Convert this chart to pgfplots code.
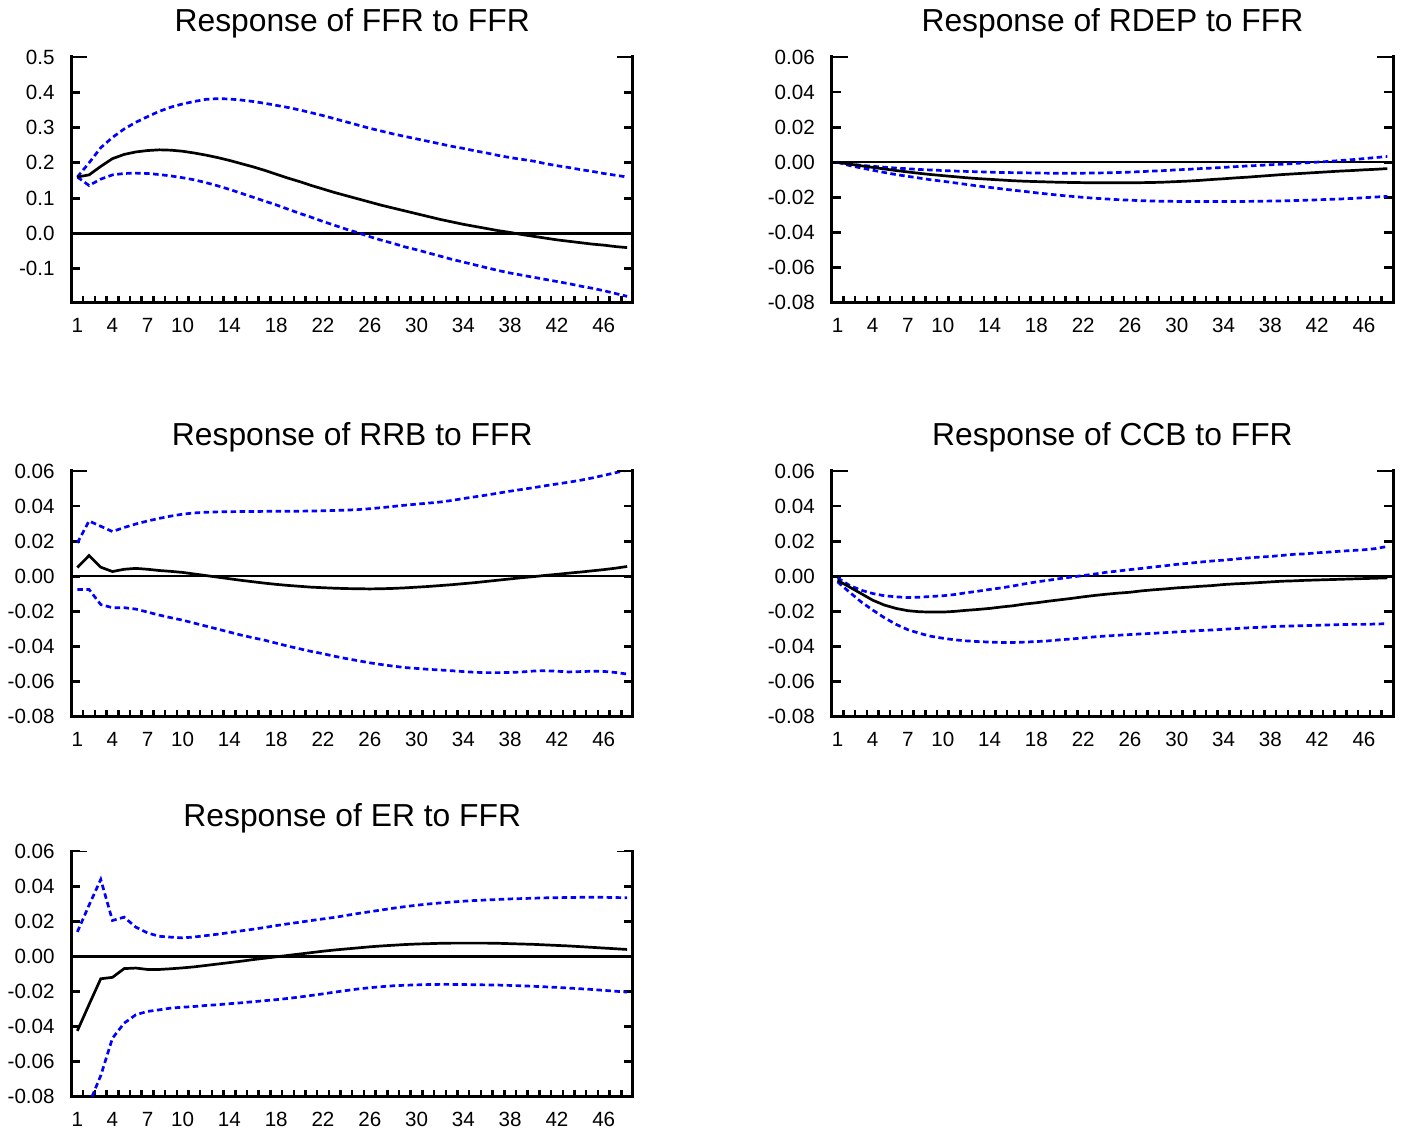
\documentclass[border=0pt]{standalone}
\usepackage{fontspec}
\setmainfont{Liberation Sans}
\usepackage{pgfplots}
\usepackage{pgfplotstable}
\pgfplotsset{compat=1.18}

\pgfplotstableread{
p r lo hi
1 0.160 0.160 0.160
2 0.166 0.136 0.200
3 0.190 0.154 0.243
4 0.212 0.166 0.272
5 0.224 0.170 0.296
6 0.231 0.171 0.315
7 0.235 0.170 0.331
8 0.237 0.167 0.346
9 0.236 0.163 0.358
10 0.233 0.158 0.367
11 0.228 0.152 0.374
12 0.222 0.144 0.380
13 0.215 0.135 0.382
14 0.207 0.125 0.381
15 0.198 0.114 0.378
16 0.189 0.103 0.374
17 0.179 0.092 0.369
18 0.168 0.081 0.363
19 0.157 0.069 0.357
20 0.147 0.057 0.350
21 0.136 0.046 0.342
22 0.126 0.034 0.334
23 0.116 0.023 0.325
24 0.107 0.012 0.316
25 0.098 0.002 0.307
26 0.089 -0.009 0.298
27 0.080 -0.019 0.290
28 0.072 -0.028 0.282
29 0.064 -0.038 0.275
30 0.056 -0.046 0.268
31 0.048 -0.055 0.261
32 0.040 -0.064 0.254
33 0.033 -0.073 0.247
34 0.026 -0.081 0.241
35 0.020 -0.089 0.234
36 0.014 -0.097 0.228
37 0.008 -0.105 0.221
38 0.003 -0.112 0.215
39 -0.003 -0.118 0.210
40 -0.008 -0.124 0.205
41 -0.013 -0.130 0.198
42 -0.018 -0.136 0.192
43 -0.022 -0.142 0.187
44 -0.026 -0.149 0.181
45 -0.030 -0.155 0.176
46 -0.033 -0.162 0.170
47 -0.037 -0.170 0.165
48 -0.040 -0.178 0.160
}\ffr

\pgfplotstableread{
p r lo hi
1 0.0000 0.0000 0.0000
2 -0.0010 -0.0018 -0.0010
3 -0.0020 -0.0032 -0.0017
4 -0.0029 -0.0045 -0.0023
5 -0.0038 -0.0058 -0.0028
6 -0.0047 -0.0070 -0.0033
7 -0.0055 -0.0080 -0.0037
8 -0.0063 -0.0090 -0.0041
9 -0.0070 -0.0100 -0.0044
10 -0.0076 -0.0108 -0.0047
11 -0.0082 -0.0117 -0.0050
12 -0.0088 -0.0126 -0.0052
13 -0.0093 -0.0135 -0.0054
14 -0.0097 -0.0143 -0.0056
15 -0.0101 -0.0151 -0.0058
16 -0.0105 -0.0159 -0.0059
17 -0.0108 -0.0166 -0.0060
18 -0.0110 -0.0174 -0.0061
19 -0.0112 -0.0181 -0.0062
20 -0.0114 -0.0188 -0.0062
21 -0.0115 -0.0194 -0.0062
22 -0.0116 -0.0200 -0.0062
23 -0.0117 -0.0205 -0.0061
24 -0.0117 -0.0209 -0.0060
25 -0.0117 -0.0213 -0.0058
26 -0.0117 -0.0216 -0.0056
27 -0.0116 -0.0219 -0.0053
28 -0.0115 -0.0221 -0.0050
29 -0.0113 -0.0222 -0.0047
30 -0.0110 -0.0223 -0.0043
31 -0.0107 -0.0224 -0.0040
32 -0.0103 -0.0224 -0.0036
33 -0.0098 -0.0224 -0.0033
34 -0.0094 -0.0224 -0.0029
35 -0.0089 -0.0224 -0.0025
36 -0.0085 -0.0223 -0.0021
37 -0.0080 -0.0222 -0.0018
38 -0.0075 -0.0221 -0.0014
39 -0.0070 -0.0220 -0.0011
40 -0.0066 -0.0218 -0.0007
41 -0.0062 -0.0216 -0.0003
42 -0.0058 -0.0214 0.0001
43 -0.0054 -0.0211 0.0005
44 -0.0050 -0.0209 0.0010
45 -0.0047 -0.0206 0.0015
46 -0.0043 -0.0202 0.0021
47 -0.0040 -0.0198 0.0027
48 -0.0036 -0.0194 0.0033
}\rdep

\pgfplotstableread{
p r lo hi
1 0.0050 -0.0075 0.0190
2 0.0118 -0.0075 0.0315
3 0.0052 -0.0161 0.0285
4 0.0027 -0.0179 0.0255
5 0.0040 -0.0179 0.0278
6 0.0045 -0.0187 0.0298
7 0.0040 -0.0204 0.0315
8 0.0033 -0.0221 0.0330
9 0.0028 -0.0236 0.0343
10 0.0022 -0.0250 0.0354
11 0.0013 -0.0267 0.0361
12 0.0004 -0.0284 0.0365
13 -0.0005 -0.0301 0.0367
14 -0.0014 -0.0318 0.0368
15 -0.0023 -0.0335 0.0369
16 -0.0031 -0.0350 0.0369
17 -0.0039 -0.0364 0.0370
18 -0.0046 -0.0381 0.0371
19 -0.0052 -0.0398 0.0371
20 -0.0057 -0.0413 0.0371
21 -0.0062 -0.0428 0.0372
22 -0.0065 -0.0441 0.0373
23 -0.0068 -0.0456 0.0375
24 -0.0070 -0.0469 0.0377
25 -0.0071 -0.0481 0.0380
26 -0.0072 -0.0493 0.0385
27 -0.0071 -0.0503 0.0391
28 -0.0069 -0.0512 0.0398
29 -0.0066 -0.0520 0.0405
30 -0.0062 -0.0525 0.0411
31 -0.0058 -0.0530 0.0417
32 -0.0053 -0.0534 0.0423
33 -0.0048 -0.0538 0.0432
34 -0.0042 -0.0543 0.0443
35 -0.0036 -0.0547 0.0453
36 -0.0029 -0.0549 0.0463
37 -0.0022 -0.0549 0.0474
38 -0.0015 -0.0548 0.0485
39 -0.0008 -0.0545 0.0495
40 -0.0002 -0.0540 0.0505
41 0.0005 -0.0538 0.0516
42 0.0011 -0.0541 0.0526
43 0.0018 -0.0545 0.0536
44 0.0024 -0.0543 0.0547
45 0.0031 -0.0541 0.0560
46 0.0038 -0.0542 0.0575
47 0.0046 -0.0548 0.0590
48 0.0056 -0.0557 0.0605
}\rrb

\pgfplotstableread{
p r lo hi
1 -0.0023 -0.0032 -0.0009
2 -0.0060 -0.0089 -0.0051
3 -0.0098 -0.0145 -0.0079
4 -0.0136 -0.0192 -0.0098
5 -0.0164 -0.0236 -0.0111
6 -0.0183 -0.0274 -0.0117
7 -0.0196 -0.0304 -0.0121
8 -0.0202 -0.0325 -0.0119
9 -0.0204 -0.0342 -0.0115
10 -0.0204 -0.0353 -0.0111
11 -0.0200 -0.0362 -0.0104
12 -0.0194 -0.0368 -0.0094
13 -0.0189 -0.0372 -0.0085
14 -0.0183 -0.0375 -0.0075
15 -0.0175 -0.0377 -0.0066
16 -0.0168 -0.0377 -0.0055
17 -0.0158 -0.0375 -0.0043
18 -0.0151 -0.0372 -0.0032
19 -0.0142 -0.0368 -0.0023
20 -0.0134 -0.0362 -0.0013
21 -0.0126 -0.0357 -0.0004
22 -0.0117 -0.0351 0.0004
23 -0.0109 -0.0345 0.0013
24 -0.0102 -0.0340 0.0023
25 -0.0096 -0.0336 0.0030
26 -0.0091 -0.0332 0.0038
27 -0.0083 -0.0328 0.0045
28 -0.0077 -0.0325 0.0053
29 -0.0072 -0.0321 0.0060
30 -0.0066 -0.0317 0.0068
31 -0.0062 -0.0313 0.0074
32 -0.0057 -0.0309 0.0081
33 -0.0053 -0.0306 0.0087
34 -0.0047 -0.0302 0.0092
35 -0.0043 -0.0298 0.0098
36 -0.0040 -0.0294 0.0104
37 -0.0036 -0.0291 0.0109
38 -0.0032 -0.0287 0.0113
39 -0.0028 -0.0285 0.0119
40 -0.0026 -0.0283 0.0125
41 -0.0023 -0.0281 0.0128
42 -0.0021 -0.0279 0.0134
43 -0.0019 -0.0277 0.0138
44 -0.0017 -0.0275 0.0143
45 -0.0015 -0.0274 0.0147
46 -0.0013 -0.0274 0.0151
47 -0.0011 -0.0272 0.0158
48 -0.0009 -0.0270 0.0170
}\ccb

\pgfplotstableread{
p r lo hi
1 -0.0425 -0.1200 0.0139
2 -0.0275 -0.0840 0.0291
3 -0.0128 -0.0680 0.0438
4 -0.0120 -0.0467 0.0204
5 -0.0070 -0.0381 0.0223
6 -0.0067 -0.0333 0.0166
7 -0.0075 -0.0314 0.0133
8 -0.0075 -0.0305 0.0114
9 -0.0071 -0.0295 0.0109
10 -0.0066 -0.0290 0.0105
11 -0.0060 -0.0286 0.0110
12 -0.0052 -0.0280 0.0118
13 -0.0044 -0.0276 0.0126
14 -0.0036 -0.0270 0.0135
15 -0.0028 -0.0265 0.0145
16 -0.0019 -0.0259 0.0154
17 -0.0011 -0.0253 0.0164
18 -0.0003 -0.0247 0.0175
19 0.0005 -0.0240 0.0185
20 0.0013 -0.0232 0.0194
21 0.0021 -0.0223 0.0204
22 0.0029 -0.0214 0.0213
23 0.0036 -0.0204 0.0222
24 0.0042 -0.0195 0.0233
25 0.0048 -0.0186 0.0244
26 0.0054 -0.0179 0.0254
27 0.0059 -0.0173 0.0264
28 0.0063 -0.0168 0.0274
29 0.0067 -0.0165 0.0283
30 0.0070 -0.0163 0.0291
31 0.0072 -0.0161 0.0298
32 0.0074 -0.0160 0.0304
33 0.0075 -0.0160 0.0309
34 0.0075 -0.0161 0.0314
35 0.0075 -0.0162 0.0318
36 0.0075 -0.0163 0.0321
37 0.0074 -0.0164 0.0324
38 0.0072 -0.0166 0.0327
39 0.0070 -0.0168 0.0329
40 0.0068 -0.0171 0.0331
41 0.0065 -0.0174 0.0333
42 0.0062 -0.0177 0.0334
43 0.0059 -0.0181 0.0335
44 0.0055 -0.0185 0.0336
45 0.0051 -0.0189 0.0336
46 0.0047 -0.0194 0.0336
47 0.0043 -0.0199 0.0335
48 0.0039 -0.0204 0.0333
}\er

\tikzset{stub/.style={black, line width=1.4pt}}
\pgfplotsset{
  irf/.style={
    scale only axis, width=280.75pt, height=122.85pt,
    anchor=south west,
    xmin=0.5, xmax=48.5,
    axis x line=bottom, axis y line=box,
    every outer x axis line/.append style={-, line width=1.5pt, line cap=rect},
    every outer y axis line/.append style={-, line width=1.5pt, line cap=rect},
    tick align=inside,
    xtick={1,4,7,10,14,18,22,26,30,34,38,42,46},
    xticklabels={1,4,7,10,14,18,22,26,30,34,38,42,46},
    minor xtick={1.5,2.5,...,47.5},
    major x tick style={draw=none},
    minor x tick style={black, line width=1.25pt},
    minor tick length=3.5pt,
    major tick length=4.5pt,
    major y tick style={black, line width=1.4pt},
    ytick pos=both, yticklabel pos=left,
    scaled y ticks=false, scaled x ticks=false,
    tick label style={font=\fontsize{10.3}{12}\selectfont},
    yticklabel style={anchor=east, inner sep=0pt, xshift=-8.25pt},
    xticklabel style={anchor=base, inner sep=0pt, yshift=-14.8pt},
    title style={at={(0.5,1)}, anchor=base, inner sep=0pt, yshift=6.5pt,
      font=\fontsize{15.9}{18}\selectfont},
    clip=true,
  },
  small/.style={
    ymin=-0.08, ymax=0.06,
    ytick={-0.08,-0.06,-0.04,-0.02,0,0.02,0.04,0.06},
    yticklabels={-0.08,-0.06,-0.04,-0.02,0.00,0.02,0.04,0.06},
  },
  zl/.style={black, line width=1.2pt},
  rl/.style={black, line width=1.35pt},
  bl/.style={blue, line width=1.35pt, dash pattern=on 2.75pt off 1.75pt},
}
\newcommand{\stubs}{%
  \draw[stub] (axis description cs:0,1) -- ++(8pt,0pt);
  \draw[stub] (axis description cs:1,1) -- ++(-8pt,0pt);}

\begin{document}
\begin{tikzpicture}
\path[use as bounding box] (0,0) rectangle (701.5pt,565pt);

\begin{axis}[irf, at={(35.75pt,413.65pt)},
  title={Response of FFR to FFR},
  ymin=-0.196, ymax=0.5,
  ytick={-0.1,0,0.1,0.2,0.3,0.4,0.5},
  yticklabels={-0.1,0.0,0.1,0.2,0.3,0.4,0.5}]
\addplot[zl] coordinates {(0.5,0) (48.5,0)};
\addplot[bl] table[x=p,y=hi] {\ffr};
\addplot[bl] table[x=p,y=lo] {\ffr};
\addplot[rl] table[x=p,y=r] {\ffr};
\stubs
\end{axis}

\begin{axis}[irf, small, at={(415.85pt,413.65pt)},
  title={Response of RDEP to FFR}]
\addplot[zl] coordinates {(0.5,0) (48.5,0)};
\addplot[bl] table[x=p,y=hi] {\rdep};
\addplot[bl] table[x=p,y=lo] {\rdep};
\addplot[rl] table[x=p,y=r] {\rdep};
\stubs
\end{axis}

\begin{axis}[irf, small, at={(35.75pt,206.65pt)},
  title={Response of RRB to FFR}]
\addplot[zl] coordinates {(0.5,0) (48.5,0)};
\addplot[bl] table[x=p,y=hi] {\rrb};
\addplot[bl] table[x=p,y=lo] {\rrb};
\addplot[rl] table[x=p,y=r] {\rrb};
\stubs
\end{axis}

\begin{axis}[irf, small, at={(415.85pt,206.65pt)},
  title={Response of CCB to FFR}]
\addplot[zl] coordinates {(0.5,0) (48.5,0)};
\addplot[bl] table[x=p,y=hi] {\ccb};
\addplot[bl] table[x=p,y=lo] {\ccb};
\addplot[rl] table[x=p,y=r] {\ccb};
\stubs
\end{axis}

\begin{axis}[irf, small, at={(35.75pt,16.65pt)},
  title={Response of ER to FFR}]
\addplot[zl] coordinates {(0.5,0) (48.5,0)};
\addplot[bl] table[x=p,y=hi] {\er};
\addplot[bl] table[x=p,y=lo] {\er};
\addplot[rl] table[x=p,y=r] {\er};
\stubs
\end{axis}
\end{tikzpicture}
\end{document}
